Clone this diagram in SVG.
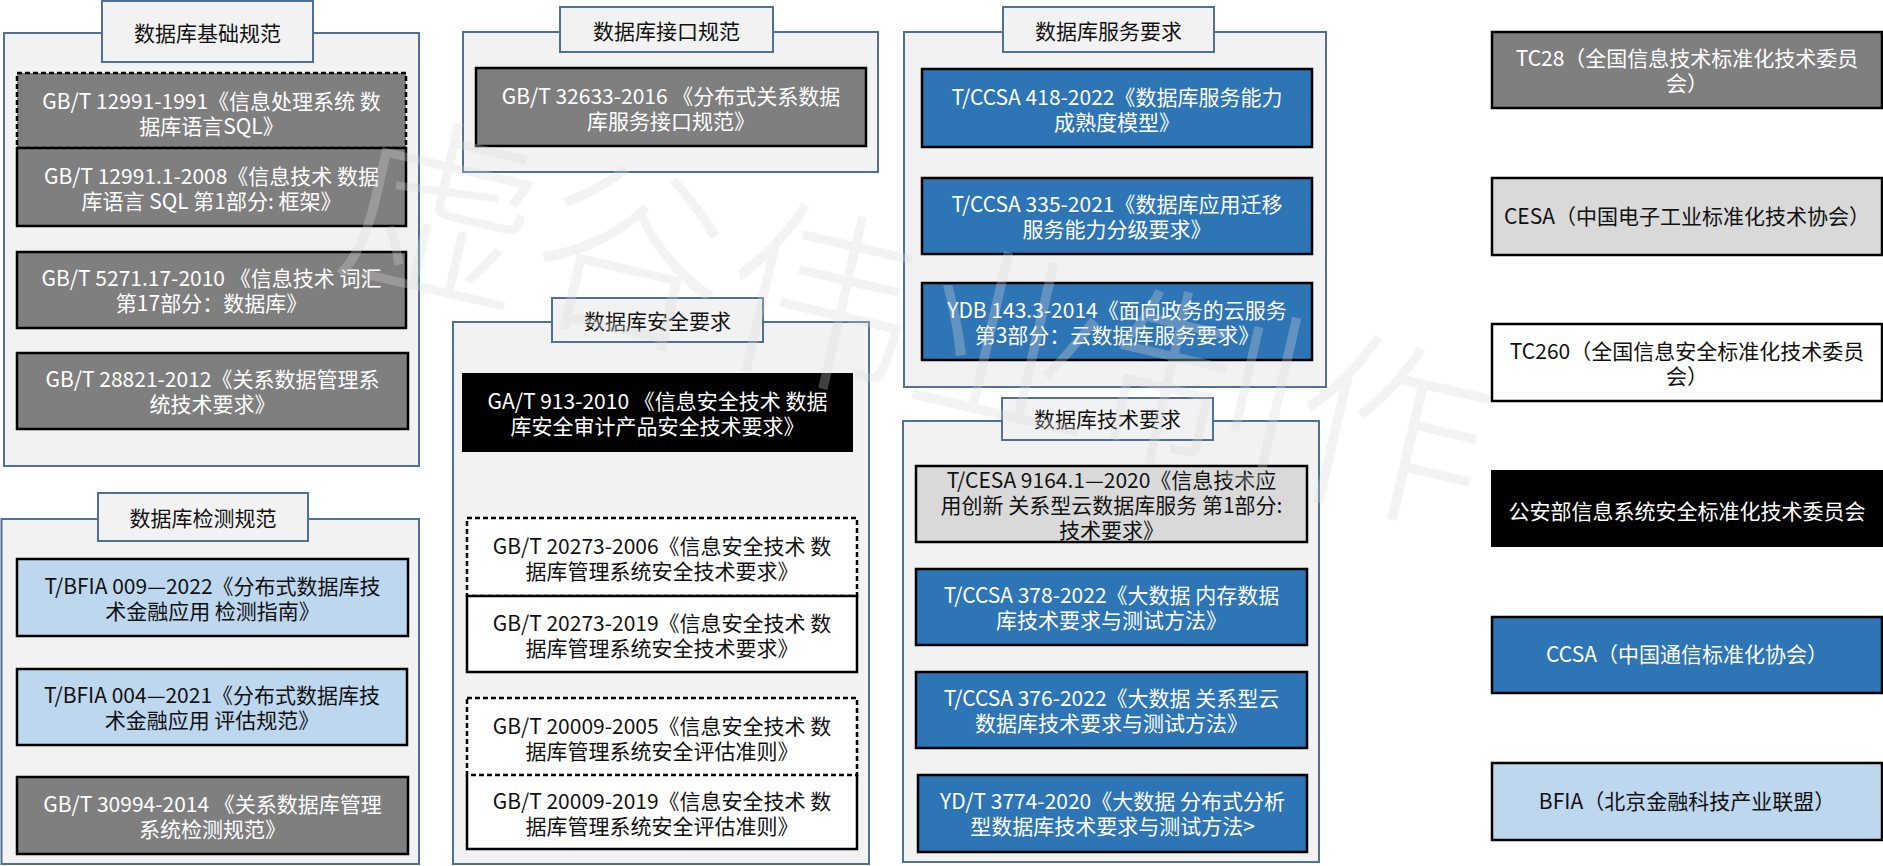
<svg xmlns="http://www.w3.org/2000/svg" width="1883" height="866" viewBox="0 0 1883 866">
<style>
.grp{fill:#f2f2f2;stroke:#4f7097;stroke-width:2}
.tab{fill:#f2f2f2;stroke:#4f7097;stroke-width:2}
.bx{stroke:#000;stroke-width:2.5}
.dash{stroke-dasharray:5 3}
.gray{fill:#7f7f7f}
.blue{fill:#2e75b6}
.lblue{fill:#bdd7ee}
.lgray{fill:#d9d9d9}
.wht{fill:#fff}
.blk{fill:#000}
.ns{stroke:none}
text{font-family:"Noto Sans CJK SC","Microsoft YaHei","Liberation Sans",sans-serif;font-size:21px;text-anchor:middle;dominant-baseline:central}
.tw{fill:#fff}
.tb{fill:#111}
.wm{font-size:195px;font-weight:300;fill:#d6d6d6;fill-opacity:0.3}
</style>
<rect width="1883" height="866" fill="#fff"/>

<g id="group-basic">
<rect class="grp" x="4" y="33" width="415" height="433"/>
<rect class="tab" x="102" y="1" width="211" height="61"/>
<text class="tb" x="207.5" y="32">数据库基础规范</text>
</g>
<g id="n-gbt12991-1991">
<rect class="bx dash gray" x="17" y="73" width="389" height="75"/>
<text class="tw" x="211.5" y="100">GB/T 12991-1991《信息处理系统 数</text>
<text class="tw" x="211.5" y="125">据库语言SQL》</text>
</g>
<g id="n-gbt12991-1-2008">
<rect class="bx gray" x="17" y="148" width="389" height="78"/>
<text class="tw" x="211.5" y="175">GB/T 12991.1-2008《信息技术 数据</text>
<text class="tw" x="211.5" y="200">库语言 SQL 第1部分: 框架》</text>
</g>
<g id="n-gbt5271">
<rect class="bx gray" x="17" y="252" width="389" height="76"/>
<text class="tw" x="211.5" y="277">GB/T 5271.17-2010 《信息技术 词汇</text>
<text class="tw" x="211.5" y="302">第17部分：数据库》</text>
</g>
<g id="n-gbt28821">
<rect class="bx gray" x="17" y="353" width="391" height="76"/>
<text class="tw" x="212.5" y="378">GB/T 28821-2012《关系数据管理系</text>
<text class="tw" x="212.5" y="403">统技术要求》</text>
</g>

<g id="group-test">
<rect class="grp" x="1.5" y="519" width="417.5" height="345"/>
<rect class="tab" x="98" y="493" width="210" height="48"/>
<text class="tb" x="203" y="517">数据库检测规范</text>
</g>
<g id="n-bfia009">
<rect class="bx lblue" x="17" y="559" width="391" height="77"/>
<text class="tb" x="212.5" y="585">T/BFIA 009—2022《分布式数据库技</text>
<text class="tb" x="212.5" y="610">术金融应用 检测指南》</text>
</g>
<g id="n-bfia004">
<rect class="bx lblue" x="17" y="669" width="390" height="76"/>
<text class="tb" x="212" y="694">T/BFIA 004—2021《分布式数据库技</text>
<text class="tb" x="212" y="719">术金融应用 评估规范》</text>
</g>
<g id="n-gbt30994">
<rect class="bx gray" x="17" y="777" width="391" height="77"/>
<text class="tw" x="212.5" y="803">GB/T 30994-2014 《关系数据库管理</text>
<text class="tw" x="212.5" y="828">系统检测规范》</text>
</g>

<g id="group-interface">
<rect class="grp" x="463" y="32" width="415" height="140"/>
<rect class="tab" x="560" y="7" width="213" height="45"/>
<text class="tb" x="666.5" y="30">数据库接口规范</text>
</g>
<g id="n-gbt32633">
<rect class="bx gray" x="476" y="68" width="390" height="78"/>
<text class="tw" x="671" y="95">GB/T 32633-2016 《分布式关系数据</text>
<text class="tw" x="671" y="120">库服务接口规范》</text>
</g>

<g id="group-security">
<rect class="grp" x="453" y="322" width="416" height="542"/>
<rect class="tab" x="552" y="298" width="211" height="44"/>
<text class="tb" x="657.5" y="320">数据库安全要求</text>
</g>
<g id="n-gat913">
<rect class="blk" x="462" y="373" width="391" height="79"/>
<text class="tw" x="657.5" y="400">GA/T 913-2010 《信息安全技术 数据</text>
<text class="tw" x="657.5" y="425">库安全审计产品安全技术要求》</text>
</g>
<g id="n-gbt20273-2006">
<rect class="bx dash wht" x="467" y="518" width="390" height="78"/>
<text class="tb" x="662" y="545">GB/T 20273-2006《信息安全技术 数</text>
<text class="tb" x="662" y="570">据库管理系统安全技术要求》</text>
</g>
<g id="n-gbt20273-2019">
<rect class="bx wht" x="467" y="596" width="390" height="76"/>
<text class="tb" x="662" y="622">GB/T 20273-2019《信息安全技术 数</text>
<text class="tb" x="662" y="647">据库管理系统安全技术要求》</text>
</g>
<g id="n-gbt20009-2019">
<rect class="wht ns" x="467" y="775" width="390" height="74"/>
<path class="bx" fill="none" d="M467,775 V849 H857 V775"/>
<text class="tb" x="662" y="800">GB/T 20009-2019《信息安全技术 数</text>
<text class="tb" x="662" y="825">据库管理系统安全评估准则》</text>
</g>
<g id="n-gbt20009-2005">
<rect class="bx dash wht" x="467" y="698" width="390" height="77"/>
<text class="tb" x="662" y="725">GB/T 20009-2005《信息安全技术 数</text>
<text class="tb" x="662" y="750">据库管理系统安全评估准则》</text>
</g>

<g id="group-service">
<rect class="grp" x="904" y="32" width="422" height="355"/>
<rect class="tab" x="1003" y="7" width="211" height="45"/>
<text class="tb" x="1108.5" y="30">数据库服务要求</text>
</g>
<g id="n-ccsa418">
<rect class="bx blue" x="922" y="69" width="390" height="78"/>
<text class="tw" x="1117" y="96">T/CCSA 418-2022《数据库服务能力</text>
<text class="tw" x="1117" y="121">成熟度模型》</text>
</g>
<g id="n-ccsa335">
<rect class="bx blue" x="922" y="178" width="390" height="76"/>
<text class="tw" x="1117" y="203">T/CCSA 335-2021《数据库应用迁移</text>
<text class="tw" x="1117" y="228">服务能力分级要求》</text>
</g>
<g id="n-ydb143">
<rect class="bx blue" x="922" y="283" width="390" height="77"/>
<text class="tw" x="1117" y="309">YDB 143.3-2014《面向政务的云服务</text>
<text class="tw" x="1117" y="334">第3部分：云数据库服务要求》</text>
</g>

<g id="group-tech">
<rect class="grp" x="903" y="421" width="416" height="441"/>
<rect class="tab" x="1002" y="398" width="211" height="42"/>
<text class="tb" x="1107.5" y="418">数据库技术要求</text>
</g>
<g id="n-cesa9164">
<rect class="bx lgray" x="916" y="466" width="391" height="76"/>
<text class="tb" x="1111.5" y="479">T/CESA 9164.1—2020《信息技术应</text>
<text class="tb" x="1111.5" y="504">用创新 关系型云数据库服务 第1部分:</text>
<text class="tb" x="1111.5" y="529">技术要求》</text>
</g>
<g id="n-ccsa378">
<rect class="bx blue" x="916" y="569" width="391" height="76"/>
<text class="tw" x="1111.5" y="594">T/CCSA 378-2022《大数据 内存数据</text>
<text class="tw" x="1111.5" y="619">库技术要求与测试方法》</text>
</g>
<g id="n-ccsa376">
<rect class="bx blue" x="916" y="672" width="391" height="76"/>
<text class="tw" x="1111.5" y="697">T/CCSA 376-2022《大数据 关系型云</text>
<text class="tw" x="1111.5" y="722">数据库技术要求与测试方法》</text>
</g>
<g id="n-ydt3774">
<rect class="bx blue" x="918" y="775" width="389" height="77"/>
<text class="tw" x="1112.5" y="800">YD/T 3774-2020《大数据 分布式分析</text>
<text class="tw" x="1112.5" y="825">型数据库技术要求与测试方法&gt;</text>
</g>

<g id="org-tc28">
<rect class="bx gray" x="1492" y="32" width="390" height="76"/>
<text class="tw" x="1687" y="57">TC28（全国信息技术标准化技术委员</text>
<text class="tw" x="1687" y="82">会）</text>
</g>
<g id="org-cesa">
<rect class="bx lgray" x="1492" y="178" width="390" height="77"/>
<text class="tb" x="1687" y="215">CESA（中国电子工业标准化技术协会）</text>
</g>
<g id="org-tc260">
<rect class="bx wht" x="1492" y="324" width="390" height="77"/>
<text class="tb" x="1687" y="350">TC260（全国信息安全标准化技术委员</text>
<text class="tb" x="1687" y="375">会）</text>
</g>
<g id="org-mps">
<rect class="blk" x="1491" y="470" width="392" height="77"/>
<text class="tw" x="1687" y="510">公安部信息系统安全标准化技术委员会</text>
</g>
<g id="org-ccsa">
<rect class="bx blue" x="1492" y="617" width="390" height="76"/>
<text class="tw" x="1687" y="653">CCSA（中国通信标准化协会）</text>
</g>
<g id="org-bfia">
<rect class="bx lblue" x="1492" y="763" width="390" height="77"/>
<text class="tb" x="1687" y="800">BFIA（北京金融科技产业联盟）</text>
</g>

<g id="connectors"></g>

<g id="watermark">
<text class="wm" x="919" y="309" transform="rotate(13 919 309)">虚谷伟业制作</text>
</g>
</svg>
